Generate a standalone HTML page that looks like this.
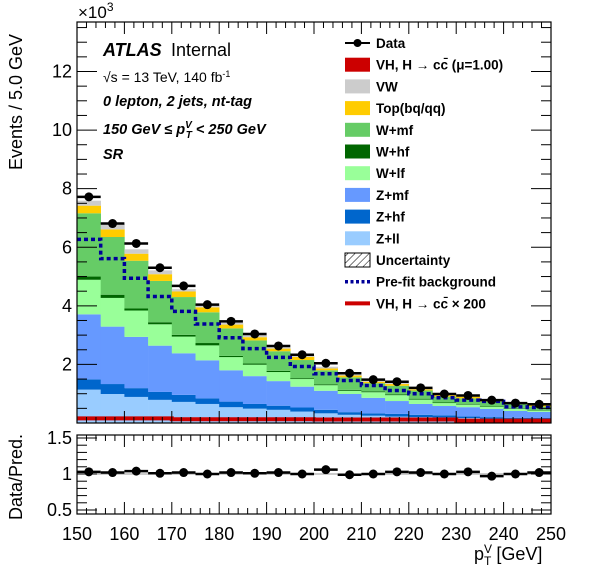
<!DOCTYPE html>
<html><head><meta charset="utf-8"><style>
html,body{margin:0;padding:0;background:#fff}
svg{display:block;font-family:"Liberation Sans",sans-serif}
</style></head><body>
<svg id="chart" width="596" height="572" viewBox="0 0 596 572" xmlns="http://www.w3.org/2000/svg">
<g id="main"></g>
<g id="ratio"></g>
<g id="legend"></g>
<g>
<text x="103" y="56" font-size="18" font-weight="bold" font-style="italic">ATLAS</text>
<text x="171" y="56" font-size="18">Internal</text>
<text x="103" y="82" font-size="14">√s = 13 TeV, 140 fb<tspan dy="-5" font-size="9">-1</tspan></text>
<text x="103" y="106" font-size="14.5" font-weight="bold" font-style="italic">0 lepton, 2 jets, nt-tag</text>
<text x="103" y="134" font-size="14.5" font-weight="bold" font-style="italic">150 GeV  ≤ p<tspan dy="-6" font-size="10">V</tspan><tspan dx="-6" dy="10" font-size="10">T</tspan><tspan dy="-4"> &lt; 250 GeV</tspan></text>
<text x="103" y="159" font-size="14.5" font-weight="bold" font-style="italic">SR</text>
</g>
<text x="78" y="18" font-size="17">×10<tspan dy="-7" font-size="12">3</tspan></text>
<text transform="translate(22,102) rotate(-90)" text-anchor="middle" font-size="18">Events / 5.0 GeV</text>
<text transform="translate(22,477) rotate(-90)" text-anchor="middle" font-size="18">Data/Pred.</text>
<text x="474" y="560" font-size="18">p<tspan dy="-7" font-size="12">V</tspan><tspan dx="-8" dy="12" font-size="12">T</tspan><tspan dy="-5"> [GeV]</tspan></text>
</svg>
<script>
const binEdgesLow = [150,155,160,165,170,175,180,185,190,195,200,205,210,215,220,225,230,235,240,245];
const zll = [1.13,0.98,0.88,0.78,0.71,0.64,0.53,0.48,0.44,0.38,0.32,0.27,0.24,0.21,0.19,0.18,0.16,0.13,0.13,0.12];
const zhf = [0.35,0.34,0.30,0.27,0.24,0.19,0.19,0.16,0.14,0.14,0.12,0.09,0.08,0.09,0.08,0.07,0.05,0.06,0.04,0.04];
const zmf = [2.22,1.96,1.75,1.58,1.42,1.30,1.07,0.95,0.84,0.71,0.65,0.62,0.53,0.44,0.37,0.32,0.32,0.28,0.23,0.21];
const wlf = [1.18,0.98,0.90,0.73,0.57,0.51,0.45,0.39,0.31,0.26,0.19,0.11,0.19,0.20,0.15,0.10,0.08,0.08,0.08,0.05];
const whf = [0.11,0.11,0.07,0.07,0.06,0.08,0.04,0.04,0.04,0.03,0.03,0.03,0.03,0.03,0.03,0.02,0.02,0.02,0.02,0.02];
const wmf = [2.16,1.97,1.63,1.41,1.29,1.05,0.94,0.79,0.67,0.62,0.48,0.43,0.28,0.29,0.28,0.20,0.20,0.15,0.14,0.11];
const topq = [0.26,0.26,0.24,0.23,0.19,0.17,0.13,0.11,0.09,0.11,0.06,0.06,0.05,0.06,0.04,0.05,0.06,0.03,0.04,0.06];
const vw = [0.17,0.19,0.15,0.13,0.08,0.07,0.06,0.07,0.04,0.05,0.06,0.03,0.04,0.03,0.03,0.02,0.02,0.02,0.02,0.02];
const vhcc = [0.01,0.01,0.01,0.01,0.01,0.01,0.01,0.01,0.01,0.01,0.01,0.01,0.01,0.01,0.01,0.01,0.01,0.01,0.01,0.01];
const dataVals = [7.72,6.81,6.13,5.30,4.68,4.04,3.47,3.04,2.63,2.33,2.04,1.70,1.48,1.41,1.20,0.99,0.94,0.78,0.68,0.64];
const prefit = [6.27,5.61,4.94,4.32,3.81,3.38,2.91,2.54,2.24,1.93,1.68,1.45,1.28,1.11,1.00,0.86,0.78,0.74,0.55,0.53];
const vhx200 = [0.16,0.16,0.16,0.16,0.13,0.13,0.13,0.13,0.13,0.13,0.12,0.12,0.12,0.12,0.12,0.12,0.08,0.08,0.08,0.08];
const ratioVals = [1.03,1.02,1.04,1.01,1.02,1.00,1.02,1.01,1.02,1.00,1.06,0.99,1.00,1.03,1.02,1.00,1.03,0.97,1.00,1.02];
const yTicks = [2,4,6,8,10,12];
const xTicks = [150,160,170,180,190,200,210,220,230,240,250];
const ratioTicks = [0.5,1,1.5];

const NS='http://www.w3.org/2000/svg';
const X0=77,X1=551,MT=22,MB=423,RT=435,RB=514;
const xs=v=>X0+(v-150)/100*(X1-X0);
const ys=v=>MB-v*(MB-MT)/13.69;
const yr=v=>474-(v-1)*72;
const BW=5;
function el(tag,attrs,parent){const e=document.createElementNS(NS,tag);for(const k in attrs)e.setAttribute(k,attrs[k]);parent.appendChild(e);return e;}
const main=document.getElementById('main'),ratio=document.getElementById('ratio'),legend=document.getElementById('legend');

const layers=[['vh-cc',vhcc,'#cc0000'],['z-ll',zll,'#99ccff'],['z-hf',zhf,'#0066cc'],['z-mf',zmf,'#6699ff'],['w-lf',wlf,'#99ff99'],['w-hf',whf,'#006600'],['w-mf',wmf,'#66cc66'],['top',topq,'#ffcc00'],['vw',vw,'#cccccc']];
const cum=binEdgesLow.map(()=>0);
layers.forEach(([name,arr,col])=>{
  binEdgesLow.forEach((lo,i)=>{
    const b=cum[i],t=b+arr[i];
    const r=el('rect',{x:xs(lo),y:ys(t),width:xs(lo+BW)-xs(lo)+0.3,height:Math.max(0,ys(b)-ys(t)),fill:col},main);
    
    
    cum[i]=t;
  });
});
let d='';
binEdgesLow.forEach((lo,i)=>{d+=(i?'L':'M')+xs(lo)+','+ys(prefit[i])+'L'+xs(lo+BW)+','+ys(prefit[i]);});
const pf=el('path',{d:d,fill:'none',stroke:'#000099','stroke-width':3.5,'stroke-dasharray':'4,3'},main);


d='';
binEdgesLow.forEach((lo,i)=>{d+=(i?'L':'M')+xs(lo)+','+ys(vhx200[i])+'L'+xs(lo+BW)+','+ys(vhx200[i]);});
const vl=el('path',{d:d,fill:'none',stroke:'#cc0000','stroke-width':4},main);


binEdgesLow.forEach((lo,i)=>{
  const g=el('g',{},main);
  
  
  const y=ys(dataVals[i]);
  el('line',{x1:xs(lo),x2:xs(lo+BW),y1:y,y2:y,stroke:'#000','stroke-width':2.5},g);
  el('circle',{cx:xs(lo+BW/2),cy:y,r:4.5,fill:'#000'},g);
});
const fr=el('rect',{x:X0,y:MT,width:X1-X0,height:MB-MT,fill:'none',stroke:'#000','stroke-width':1.2},main);


for(let v=0;v<=13.5;v+=0.5){const y=ys(v);const L=(Math.abs(v%2)<1e-6)?20:10;el('line',{x1:X0,x2:X0+L,y1:y,y2:y,stroke:'#000'},main);el('line',{x1:X1,x2:X1-L,y1:y,y2:y,stroke:'#000'},main);}
yTicks.forEach(v=>{const t=el('text',{x:72,y:ys(v)+6,'text-anchor':'end','font-size':18},main);t.textContent=v;
 
 });
for(let v=150;v<=250;v+=2){const x=xs(v);const L=(v%10===0)?12:6;
 el('line',{x1:x,x2:x,y1:MB,y2:MB-L,stroke:'#000'},main);el('line',{x1:x,x2:x,y1:MT,y2:MT+L,stroke:'#000'},main);
 el('line',{x1:x,x2:x,y1:RB,y2:RB-L,stroke:'#000'},ratio);el('line',{x1:x,x2:x,y1:RT,y2:RT+L,stroke:'#000'},ratio);}
const rf=el('rect',{x:X0,y:RT,width:X1-X0,height:RB-RT,fill:'none',stroke:'#000','stroke-width':1.2},ratio);


el('line',{x1:X0,x2:X1,y1:yr(1),y2:yr(1),stroke:'#999','stroke-width':1},ratio);
for(let v=0.5;v<=1.55;v+=0.1){const y=yr(v);const L=(Math.abs((v*2)%1)<0.01||Math.abs((v*2)%1)>0.99)?20:10;el('line',{x1:X0,x2:X0+L,y1:y,y2:y,stroke:'#000'},ratio);el('line',{x1:X1,x2:X1-L,y1:y,y2:y,stroke:'#000'},ratio);}
ratioTicks.forEach(v=>{const t=el('text',{x:72,y:yr(v)+6,'text-anchor':'end','font-size':18},ratio);t.textContent=v;
 
 });
binEdgesLow.forEach((lo,i)=>{
  const g=el('g',{},ratio);
  
  
  const y=yr(ratioVals[i]);
  el('line',{x1:xs(lo),x2:xs(lo+BW),y1:y,y2:y,stroke:'#000','stroke-width':2.5},g);
  el('circle',{cx:xs(lo+BW/2),cy:y,r:4.5,fill:'#000'},g);
});
xTicks.forEach(v=>{const t=el('text',{x:xs(v),y:540,'text-anchor':'middle','font-size':18},ratio);t.textContent=v;
 
 });
const leg=[['Data','data'],['VH, H  →  cc̄ (μ=1.00)','#cc0000'],['VW','#cccccc'],['Top(bq/qq)','#ffcc00'],['W+mf','#66cc66'],['W+hf','#006600'],['W+lf','#99ff99'],['Z+mf','#6699ff'],['Z+hf','#0066cc'],['Z+ll','#99ccff'],['Uncertainty','hatch'],['Pre-fit background','prefit'],['VH, H  →  cc̄ × 200','line']];
const defs=el('defs',{},legend);
const pat=el('pattern',{id:'hatch',width:5,height:5,patternUnits:'userSpaceOnUse',patternTransform:'rotate(45)'},defs);
el('line',{x1:0,y1:0,x2:0,y2:5,stroke:'#000','stroke-width':1},pat);
leg.forEach(([label,kind],i)=>{
  const y=43+i*21.7;
  const g=el('g',{},legend);
  
  
  if(kind==='data'){el('line',{x1:345,x2:370,y1:y,y2:y,stroke:'#000','stroke-width':2},g);el('circle',{cx:357.5,cy:y,r:4,fill:'#000'},g);}
  else if(kind==='hatch'){el('rect',{x:345,y:y-7,width:25,height:14,fill:'url(#hatch)',stroke:'#000'},g);}
  else if(kind==='prefit'){el('line',{x1:345,x2:370,y1:y,y2:y,stroke:'#000099','stroke-width':3.5,'stroke-dasharray':'3,2.5'},g);}
  else if(kind==='line'){el('line',{x1:345,x2:370,y1:y,y2:y,stroke:'#cc0000','stroke-width':4},g);}
  else el('rect',{x:345,y:y-7,width:25,height:14,fill:kind},g);
  const t=el('text',{x:376,y:y+5,'font-size':13.5,'font-weight':'bold'},g);t.textContent=label;
});
</script>
</body></html>
